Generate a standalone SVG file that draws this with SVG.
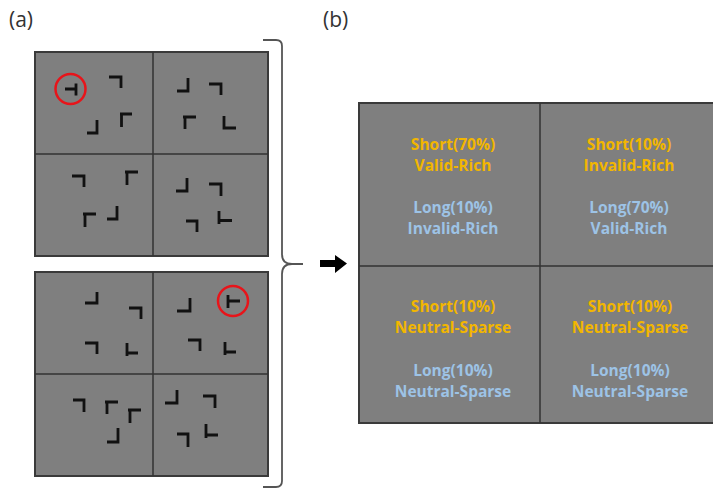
<svg xmlns="http://www.w3.org/2000/svg" width="713" height="490" viewBox="0 0 713 490">
  <style>
    .panel { fill: #7f7f7f; stroke: #3a3a3a; stroke-width: 2; }
    .div { stroke: #333; stroke-width: 1.5; fill: none; }
    .glyph { stroke: #111; stroke-width: 2.8; fill: none; stroke-linecap: butt; stroke-linejoin: miter; }
    .ring { stroke: #e8141a; stroke-width: 2.5; fill: none; }
    .tag { font-family: "Open Sans", "Noto Sans", "DejaVu Sans", sans-serif; font-size: 21px; fill: #333; }
    .lbl { font-family: "Open Sans", "Noto Sans", sans-serif; font-size: 15.5px; font-weight: bold; text-anchor: middle; }
    .short { fill: #f2b600; }
    .long { fill: #9dc3e6; }
  </style>

  <text class="tag" x="9" y="27">(a)</text>
  <text class="tag" x="323" y="27">(b)</text>

  <!-- panel (a), upper display -->
  <g id="display-top">
    <rect class="panel" x="35" y="52" width="233" height="204"/>
    <path class="div" d="M153,52 V256 M35,154 H268"/>
    <path class="glyph" d="M65,89 H76 M76,83.5 V95.5"/>
    <path class="glyph" d="M109,77 H121 V88"/>
    <path class="glyph" d="M120,114 H132 M121.5,114 V127"/>
    <path class="glyph" d="M87,133 H97 V120"/>
    <path class="glyph" d="M177,91 H188 V78"/>
    <path class="glyph" d="M209,84 H221 V95"/>
    <path class="glyph" d="M183,117 H196 M185,117 V129"/>
    <path class="glyph" d="M224,116 V128 H236"/>
    <path class="glyph" d="M72,176 H84 V187"/>
    <path class="glyph" d="M125,172 H138 M127,172 V185"/>
    <path class="glyph" d="M83,214 H96 M85,214 V227"/>
    <path class="glyph" d="M107,219 H117 V206"/>
    <path class="glyph" d="M176,191 H187 V178"/>
    <path class="glyph" d="M209,184 H221 V196"/>
    <path class="glyph" d="M186,221 H197 V232"/>
    <path class="glyph" d="M219,211 V224 M219,220.5 H232"/>
    <circle class="ring" cx="70.5" cy="89" r="15"/>
  </g>

  <!-- panel (a), lower display -->
  <g id="display-bottom">
    <rect class="panel" x="35" y="272" width="233" height="204"/>
    <path class="div" d="M153,272 V476 M35,374 H268"/>
    <path class="glyph" d="M85,303 H97 V292"/>
    <path class="glyph" d="M129,308 H141 V319"/>
    <path class="glyph" d="M85,343 H97 V354"/>
    <path class="glyph" d="M127,343 V356 M127,353 H138"/>
    <path class="glyph" d="M177,311 H190 V298"/>
    <path class="glyph" d="M228,295 V308 M228,301 H240"/>
    <path class="glyph" d="M188,340 H200 V351"/>
    <path class="glyph" d="M225,342 V355 M225,352 H236"/>
    <path class="glyph" d="M73,400 H84 V412"/>
    <path class="glyph" d="M105,402 H118 M107,402 V414"/>
    <path class="glyph" d="M128,410 H141 M130,410 V423"/>
    <path class="glyph" d="M107,442 H118 V428"/>
    <path class="glyph" d="M165,403 H177 V390"/>
    <path class="glyph" d="M203,396 H215 V408"/>
    <path class="glyph" d="M177,434 H188 V447"/>
    <path class="glyph" d="M206,424 V438 M206,435 H218"/>
    <circle class="ring" cx="233" cy="301" r="15"/>
  </g>

  <!-- connectors: brace and arrow -->
  <g id="connectors">
    <path d="M263,40 H276 Q282,40 282,46 V254 Q282,264 292,264 H303 M292,264 Q282,264 282,274 V481 Q282,487 276,487 H263" fill="none" stroke="#555" stroke-width="1.8"/>
    <path d="M320,260 H335 V255 L347,263.5 L335,273 V267 H320 Z" fill="#000"/>
  </g>

  <!-- panel (b) -->
  <g id="summary">
    <rect class="panel" x="359" y="103" width="370" height="320"/>
    <path class="div" d="M540,103 V423 M359,266 H713"/>
  </g>
  <g id="cell-tl">
    <text class="lbl short" x="453" y="150">Short(70%)</text>
    <text class="lbl short" x="453" y="171">Valid-Rich</text>
    <text class="lbl long" x="453" y="213">Long(10%)</text>
    <text class="lbl long" x="453" y="234">Invalid-Rich</text>
  </g>
  <g id="cell-tr">
    <text class="lbl short" x="629" y="150">Short(10%)</text>
    <text class="lbl short" x="629" y="171">Invalid-Rich</text>
    <text class="lbl long" x="629" y="213">Long(70%)</text>
    <text class="lbl long" x="629" y="234">Valid-Rich</text>
  </g>
  <g id="cell-bl">
    <text class="lbl short" x="453" y="312">Short(10%)</text>
    <text class="lbl short" x="453" y="333">Neutral-Sparse</text>
    <text class="lbl long" x="453" y="376">Long(10%)</text>
    <text class="lbl long" x="453" y="397">Neutral-Sparse</text>
  </g>
  <g id="cell-br">
    <text class="lbl short" x="630" y="312">Short(10%)</text>
    <text class="lbl short" x="630" y="333">Neutral-Sparse</text>
    <text class="lbl long" x="630" y="376">Long(10%)</text>
    <text class="lbl long" x="630" y="397">Neutral-Sparse</text>
  </g>
</svg>
